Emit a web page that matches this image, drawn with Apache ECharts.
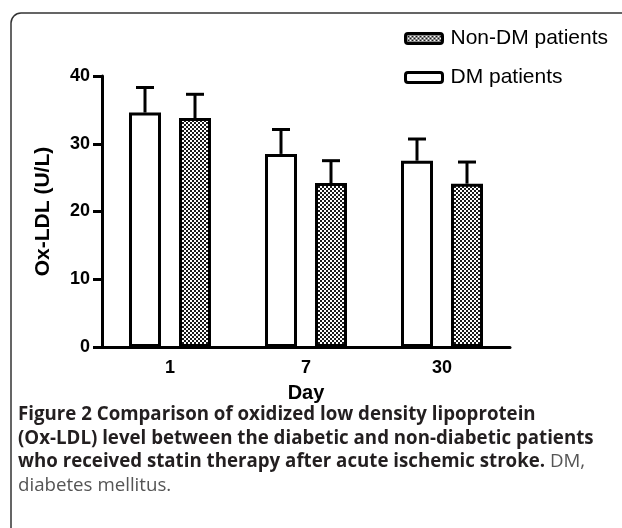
<!DOCTYPE html>
<html>
<head>
<meta charset="utf-8">
<script src="https://cdn.jsdelivr.net/npm/echarts@6/dist/echarts.min.js"></script>
<style>
html,body{margin:0;padding:0;background:#fff;}
#chart{width:622px;height:528px;}
</style>
</head>
<body>
<div id="chart"></div>
<script>
// ---- data ----
const categories = ['1', '7', '30'];
const dmMean = [34.6, 28.5, 27.5];
const dmSD = [3.7, 3.6, 3.2];
const nonDmMean = [33.8, 24.2, 24.1];
const nonDmSD = [3.5, 3.3, 3.2];
const seriesNames = ['DM patients', 'Non-DM patients'];
const legendOrder = ['Non-DM patients', 'DM patients'];
const yMin = 0, yMax = 40, yInterval = 10;
const xTitle = 'Day';
const yTitle = 'Ox-LDL (U/L)';

// ---- style ----
const barW = 32;
const gapPx = 18;
const offset = (barW + gapPx) / 2;
const capHalf = 9;

function makePattern() {
  const c = document.createElement('canvas');
  c.width = 4; c.height = 4;
  const g = c.getContext('2d');
  g.fillStyle = '#ffffff'; g.fillRect(0, 0, 4, 4);
  g.fillStyle = '#1a1a1a';
  g.fillRect(0, 0, 2, 2); g.fillRect(2, 2, 2, 2);
  return c;
}
const pattern = { image: makePattern(), repeat: 'repeat' };

function errRender(sign) {
  return function (params, api) {
    const i = api.value(0), m = api.value(1), s = api.value(2);
    const b = api.coord([i, m]);
    const t = api.coord([i, m + s]);
    const x = b[0] + sign * offset;
    const st = { stroke: '#000', lineWidth: 3 };
    return {
      type: 'group',
      children: [
        { type: 'line', shape: { x1: x, y1: b[1], x2: x, y2: t[1] }, style: st },
        { type: 'line', shape: { x1: x - capHalf, y1: t[1], x2: x + capHalf, y2: t[1] }, style: st }
      ]
    };
  };
}

const chart = echarts.init(document.getElementById('chart'), null, { renderer: 'canvas' });
const capFs = 18.7, capLh = 23.5;
chart.setOption({
  animation: false,
  grid: { left: 102, right: 112, top: 76, bottom: 181 },
  legend: {
    data: legendOrder,
    orient: 'vertical',
    left: 404,
    top: 28,
    padding: 0,
    itemWidth: 37,
    itemHeight: 10,
    itemGap: 18,
    textStyle: { fontFamily: 'Liberation Sans', fontSize: 21, color: '#000', padding: [0, 0, 0, 3] },
    itemStyle: { borderWidth: 3, borderColor: '#000' }
  },
  xAxis: {
    type: 'category',
    data: categories,
    name: xTitle,
    nameLocation: 'middle',
    nameGap: 36,
    nameTextStyle: { fontFamily: 'Liberation Sans', fontWeight: 'bold', fontSize: 20, color: '#000' },
    axisLine: { lineStyle: { color: '#000', width: 3 } },
    axisTick: { show: false },
    axisLabel: { margin: 12, fontFamily: 'Liberation Sans', fontWeight: 'bold', fontSize: 18, color: '#000' },
    splitLine: { show: false }
  },
  yAxis: {
    type: 'value',
    min: yMin, max: yMax, interval: yInterval,
    name: yTitle,
    nameLocation: 'middle',
    nameGap: 48,
    nameRotate: 90,
    nameTextStyle: { fontFamily: 'Liberation Sans', fontWeight: 'bold', fontSize: 21, color: '#000' },
    axisLine: { show: true, lineStyle: { color: '#000', width: 3 } },
    axisTick: { show: true, length: 9, lineStyle: { color: '#000', width: 3 } },
    axisLabel: { margin: 12, fontFamily: 'Liberation Sans', fontWeight: 'bold', fontSize: 18, color: '#000' },
    splitLine: { show: false }
  },
  series: [
    {
      name: seriesNames[0], type: 'bar', data: dmMean,
      barWidth: barW, barGap: (gapPx / barW * 100) + '%',
      itemStyle: { color: '#fff', borderColor: '#000', borderWidth: 3 }
    },
    {
      name: seriesNames[1], type: 'bar', data: nonDmMean,
      barWidth: barW,
      itemStyle: { color: pattern, borderColor: '#000', borderWidth: 3 }
    },
    {
      type: 'custom', renderItem: errRender(-1), z: 5,
      encode: { x: 0, y: 1 },
      data: categories.map((c, i) => [i, dmMean[i], dmSD[i]])
    },
    {
      type: 'custom', renderItem: errRender(1), z: 5,
      encode: { x: 0, y: 1 },
      data: categories.map((c, i) => [i, nonDmMean[i], nonDmSD[i]])
    }
  ],
  graphic: [
    {
      type: 'rect', silent: true,
      shape: { x: 11, y: 13, width: 700, height: 700, r: 10 },
      style: { fill: 'none', stroke: '#333', lineWidth: 1.5 }
    },
    {
      type: 'text', left: 18, top: 403, silent: true,
      style: {
        text: '{b|Figure 2 Comparison of oxidized low density lipoprotein}\n' +
              '{b|(Ox-LDL) level between the diabetic and non-diabetic patients}\n' +
              '{b|who received statin therapy after acute ischemic stroke.}{r| DM,}\n' +
              '{r|diabetes mellitus.}',
        lineHeight: capLh,
        rich: {
          b: { fontFamily: 'Open Sans', fontWeight: 'bold', fontSize: capFs, fill: '#231f20', lineHeight: capLh },
          r: { fontFamily: 'Open Sans', fontWeight: 'normal', fontSize: capFs, fill: '#555', lineHeight: capLh }
        }
      }
    }
  ]
});
</script>
</body>
</html>
